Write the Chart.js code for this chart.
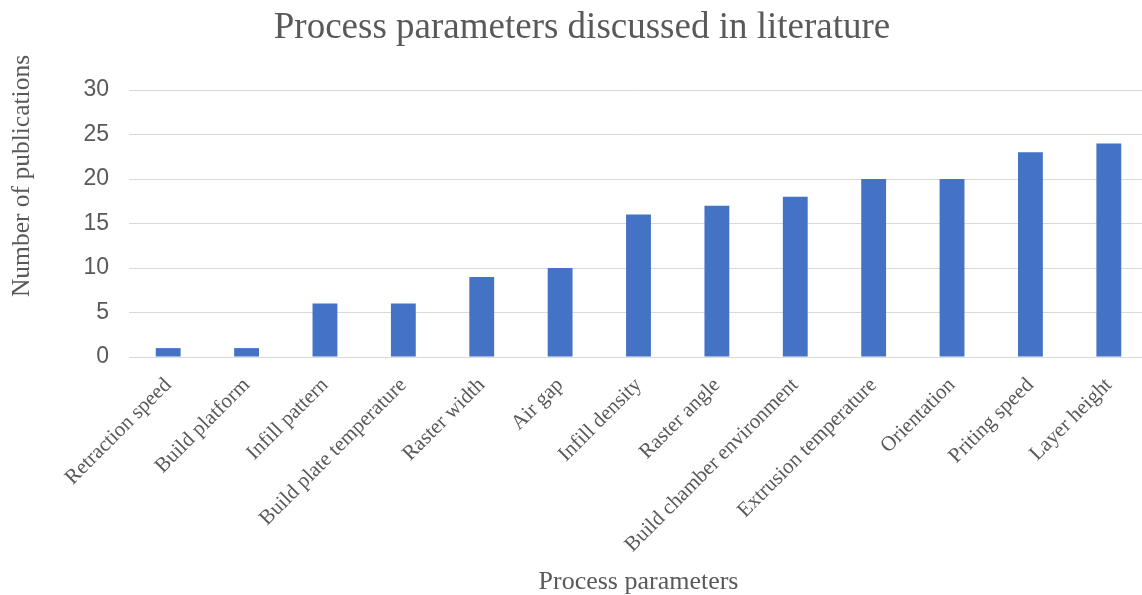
<!DOCTYPE html>
<html>
<head>
<meta charset="utf-8">
<script src="https://cdn.jsdelivr.net/npm/chart.js@4.4.1/dist/chart.umd.min.js"></script>
<style>
  html, body { margin: 0; padding: 0; background: #ffffff; overflow: hidden; }
  #wrap { width: 1142px; height: 595px; position: relative; overflow: hidden; }
</style>
</head>
<body>
<div id="wrap"><canvas id="chart" width="1150" height="595"></canvas></div>
<script>
// Process parameters and how many publications discuss each one
const categories = [
  'Retraction speed', 'Build platform', 'Infill pattern', 'Build plate temperature',
  'Raster width', 'Air gap', 'Infill density', 'Raster angle',
  'Build chamber environment', 'Extrusion temperature', 'Orientation',
  'Priting speed', 'Layer height'
];
const publications = [1, 1, 6, 6, 9, 10, 16, 17, 18, 20, 20, 23, 24];
const yTicks = [0, 5, 10, 15, 20, 25, 30];

const chartTitle = 'Process parameters discussed in literature';
const xTitle = 'Process parameters';
const yTitle = 'Number of publications';

const grey = '#595959';
const serif = '"Liberation Serif", "Times New Roman", serif';
const sans = '"Liberation Sans", Arial, sans-serif';

// Chart title and vertical axis title, drawn onto the canvas
const titlesPlugin = {
  id: 'titles',
  afterDraw(chart) {
    const ctx = chart.ctx;
    ctx.save();
    ctx.fillStyle = grey;
    ctx.textAlign = 'center';

    ctx.font = '37px ' + serif;
    ctx.textBaseline = 'alphabetic';
    ctx.fillText(chartTitle, 582, 38);

    ctx.translate(22, 176);
    ctx.rotate(-Math.PI / 2);
    ctx.font = '25.5px ' + serif;
    ctx.textBaseline = 'middle';
    ctx.fillText(yTitle, 0, 0);
    ctx.restore();
  }
};

new Chart(document.getElementById('chart'), {
  type: 'bar',
  data: {
    labels: categories,
    datasets: [{
      label: 'Publications',
      data: publications,
      backgroundColor: '#4472c4',
      borderWidth: 0,
      categoryPercentage: 1.0,
      barPercentage: 0.317
    }]
  },
  options: {
    responsive: false,
    animation: false,
    layout: { padding: { left: 0, right: 2, top: 90, bottom: 0 } },
    plugins: {
      legend: { display: false },
      tooltip: { enabled: false },
      title: { display: false }
    },
    scales: {
      x: {
        grid: { display: false },
        border: { color: '#d9d9d9', width: 1 },
        ticks: {
          color: grey,
          font: { family: serif, size: 21 },
          minRotation: 45,
          maxRotation: 45,
          autoSkip: false,
          padding: 8
        },
        title: {
          display: true,
          text: xTitle,
          color: grey,
          font: { family: serif, size: 26, lineHeight: 1.0 },
          padding: { top: 0, bottom: 0 }
        },
        afterFit(scale) { scale.height = 238; }
      },
      y: {
        min: 0,
        max: 30,
        afterBuildTicks(scale) { scale.ticks = yTicks.map(v => ({ value: v })); },
        grid: { color: '#d9d9d9', lineWidth: 1, drawTicks: false },
        border: { display: false },
        ticks: {
          color: grey,
          font: { family: sans, size: 23 },
          padding: 20
        },
        afterFit(scale) { scale.width = 129; }
      }
    }
  },
  plugins: [titlesPlugin]
});
</script>
</body>
</html>
